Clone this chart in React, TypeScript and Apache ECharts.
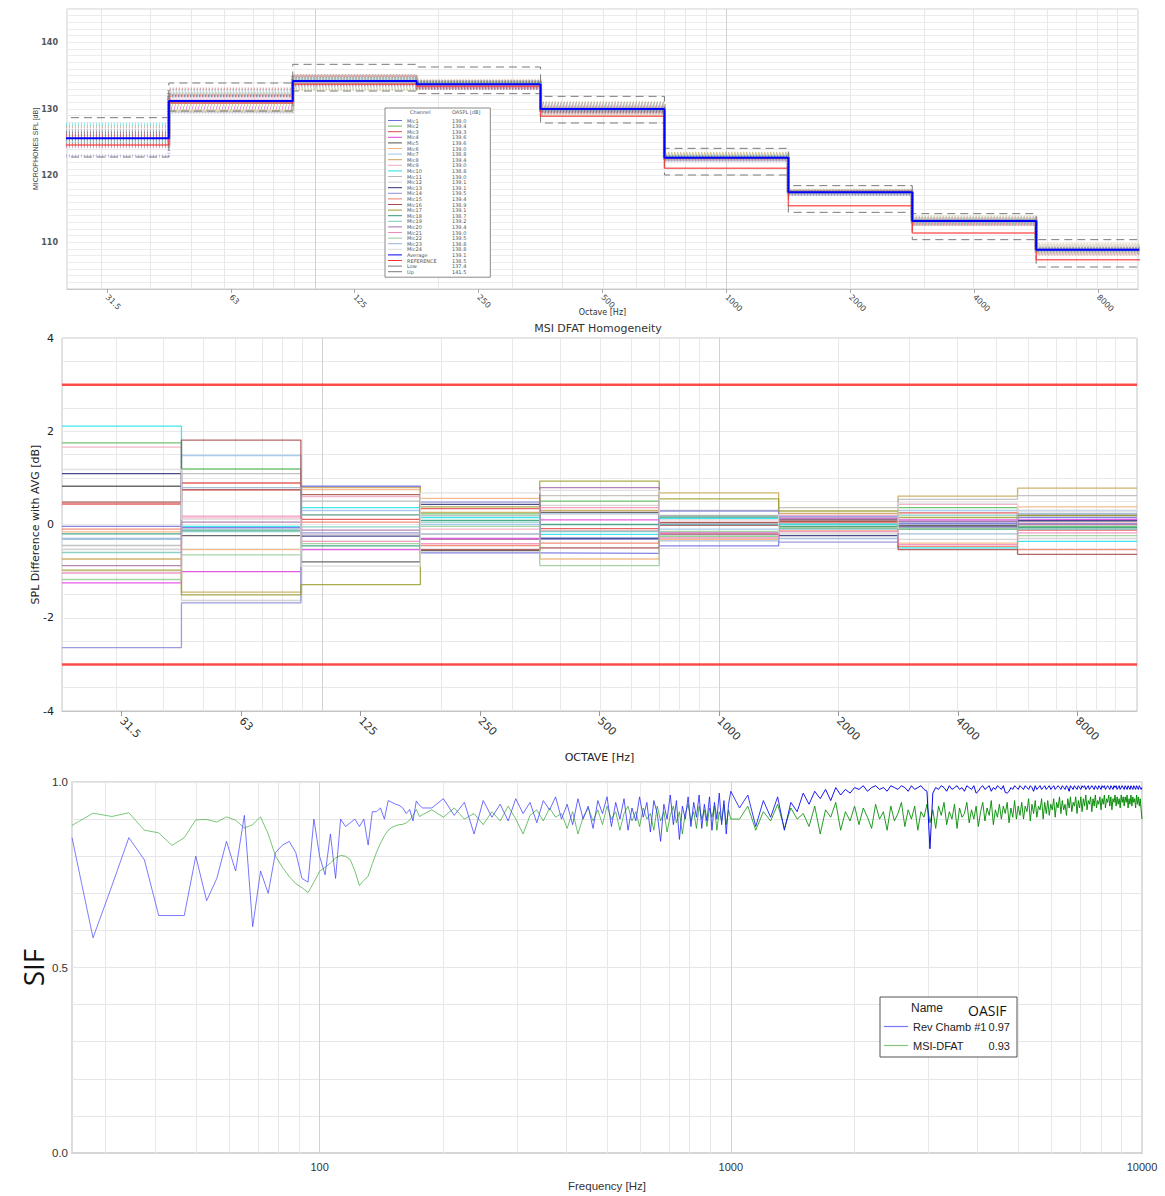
import React, { useEffect, useRef } from "react";
import * as echarts from "echarts";

// ---------- shared octave bands ----------
const BANDS = ["31.5", "63", "125", "250", "500", "1000", "2000", "4000", "8000"];
const BAND_CENTERS = [31.25, 62.5, 125, 250, 500, 1000, 2000, 4000, 8000];

// ---------- top panel (dB per octave band) ----------
const AVG = [125.6, 131.2, 134.2, 133.7, 130.0, 122.7, 117.5, 113.2, 108.9];
const REF = [124.6, 130.9, 133.7, 133.4, 128.9, 121.1, 115.5, 111.4, 107.4];
const LOW = [122.8, 129.7, 132.7, 132.3, 127.9, 120.1, 114.5, 110.4, 106.3];
const UP = [128.7, 133.9, 136.7, 136.3, 131.9, 124.1, 118.5, 114.3, 110.4];

// ---------- middle panel: SPL difference with AVG per mic per band ----------
const MIC1 = [-0.04, -0.07, 0.82, -0.61, -0.62, -0.46, 0.18, 0.02, 0.15];
const MIC2 = [1.75, 1.19, 0.21, 0.23, 0.5, -0.25, -0.09, 0.36, -0.04];
const MIC3 = [0.44, 0.89, 0.11, 0.34, -0.09, -0.02, 0.05, 0.25, -0.12];
const MIC4 = [-1.25, -1.01, -0.54, -0.3, 0.1, -0.18, 0.12, 0.1, 0.11];
const MIC5 = [0.82, -0.24, -0.8, -0.56, 0.26, 0.19, 0.1, -0.02, 0.2];
const MIC6 = [-0.16, -0.54, 0.75, 0.56, -0.74, -0.32, -0.13, -0.4, 0.38];
const MIC7 = [-0.32, 1.48, 0.3, 0.0, -0.29, -0.1, -0.1, 0.3, 0.3];
const MIC8 = [-0.74, -1.45, 0.79, 0.26, 0.3, 0.68, 0.24, 0.61, 0.78];
const MIC9 = [1.66, 0.14, 0.6, -0.1, -0.13, 0.05, 0.2, 0.43, 0.05];
const MIC10 = [2.11, -0.04, 0.36, 0.15, -0.21, 0.13, 0.0, -0.5, -0.36];
const MIC11 = [-0.45, 1.09, 0.5, 0.19, 0.62, 0.3, 0.36, 0.54, 0.62];
const MIC12 = [-0.54, -1.63, -0.21, -0.21, 0.41, 0.1, -0.2, -0.32, -0.3];
const MIC13 = [1.09, 0.75, -0.25, 0.43, -0.3, 0.0, -0.24, -0.05, 0.08];
const MIC14 = [-2.64, -1.68, -0.18, 0.48, -0.32, 0.29, -0.38, 0.05, 0.02];
const MIC15 = [-0.1, 0.74, 0.05, -0.45, -0.4, -0.2, -0.05, -0.47, -0.54];
const MIC16 = [0.48, 1.81, 0.64, -0.54, -0.5, 0.04, 0.07, -0.54, -0.64];
const MIC17 = [-0.98, -1.51, -1.29, 0.38, 0.93, 0.55, 0.29, 0.15, 0.19];
const MIC18 = [-0.2, -0.12, -0.46, 0.09, 0.0, 0.16, -0.04, -0.1, -0.07];
const MIC19 = [-0.6, -0.15, -0.05, 0.05, -0.15, 0.0, 0.02, 0.2, -0.1];
const MIC20 = [-0.88, 0.05, -0.12, -0.32, 0.79, -0.21, 0.14, 0.07, 0.0];
const MIC21 = [-1.04, 0.18, -0.36, -0.41, 0.36, -0.29, -0.15, -0.43, -0.18];
const MIC22 = [-1.18, -0.65, -0.41, -0.04, -0.88, -0.15, -0.06, -0.09, -0.24];
const MIC23 = [-0.3, 0.79, 0.2, -0.2, 0.23, -0.35, -0.3, -0.2, 0.24];
const MIC24 = [1.18, 0.11, -0.89, 0.68, 0.73, 0.2, -0.18, 0.46, 0.29];
const MIC_DIFFS = [MIC1, MIC2, MIC3, MIC4, MIC5, MIC6, MIC7, MIC8, MIC9, MIC10, MIC11, MIC12,
  MIC13, MIC14, MIC15, MIC16, MIC17, MIC18, MIC19, MIC20, MIC21, MIC22, MIC23, MIC24];
const MIC_COLORS = ["#6f6fe0", "#5cb85c", "#e04848", "#e040e0", "#505050", "#f4b27a", "#9cc4ea",
  "#c8a450", "#f2a8bc", "#20e0e8", "#b8b8b8", "#cfcfcf", "#2c2c78", "#8c8cd8", "#f07a62",
  "#a84848", "#9c9c30", "#2e9a78", "#78c8bc", "#a870a8", "#f08cb8", "#98cc98", "#98b4d0", "#dcdcdc"];
const LIMITS = [3, -3];

// legend values (OASPL [dB])
const OASPL = [139.0, 139.4, 139.3, 139.6, 139.6, 139.0, 138.8, 139.4, 139.0, 138.8, 139.0, 139.1,
  139.1, 139.5, 139.4, 138.9, 139.1, 138.7, 139.2, 139.4, 139.0, 139.5, 138.8, 138.8,
  139.1, 138.5, 137.4, 141.5];

// ---------- bottom panel: SIF vs frequency ----------
// sampling grids (start Hz, step Hz)
const GRID_A = { start: 25, step: 3.125 };
const GRID_B = { start: 187.5, step: 12.5 };
const GRID_C = { start: 1050, step: 50 };

const REV_A = [0.85, 0.58, 0.72, 0.85, 0.79, 0.64, 0.64, 0.64, 0.80, 0.68,
  0.74, 0.84, 0.76, 0.91, 0.61, 0.76, 0.70, 0.81, 0.83, 0.84,
  0.81, 0.74, 0.73, 0.90, 0.80, 0.75, 0.86, 0.74, 0.90, 0.88,
  0.89, 0.90, 0.88, 0.90, 0.83, 0.92, 0.92, 0.93, 0.90, 0.95,
  0.945, 0.94, 0.937, 0.93, 0.915, 0.926, 0.895, 0.949, 0.937, 0.93];
const MSI_A = [0.883, 0.916, 0.907, 0.917, 0.87, 0.863, 0.829, 0.85, 0.898, 0.899,
  0.892, 0.906, 0.897, 0.876, 0.885, 0.906, 0.86, 0.80, 0.77, 0.745,
  0.726, 0.715, 0.702, 0.73, 0.759, 0.77, 0.782, 0.795, 0.802, 0.80,
  0.791, 0.76, 0.721, 0.735, 0.746, 0.78, 0.81, 0.835, 0.855, 0.87,
  0.878, 0.882, 0.885, 0.886, 0.89, 0.897, 0.91, 0.926, 0.907, 0.912];
const REV_B = [0.93, 0.955, 0.91, 0.945, 0.86, 0.95, 0.905, 0.94, 0.895, 0.955,
  0.915, 0.945, 0.89, 0.95, 0.925, 0.96, 0.90, 0.94, 0.885, 0.955,
  0.90, 0.935, 0.875, 0.95, 0.915, 0.96, 0.88, 0.945, 0.90, 0.955,
  0.87, 0.93, 0.895, 0.96, 0.905, 0.945, 0.865, 0.95, 0.915, 0.84,
  0.94, 0.90, 0.965, 0.885, 0.95, 0.845, 0.935, 0.90, 0.96, 0.88,
  0.945, 0.905, 0.965, 0.875, 0.94, 0.895, 0.96, 0.87, 0.945, 0.90,
  0.97, 0.885, 0.95, 0.86, 0.94, 0.975];
const MSI_B = [0.925, 0.905, 0.93, 0.90, 0.915, 0.885, 0.92, 0.895, 0.935, 0.90,
  0.86, 0.91, 0.925, 0.895, 0.93, 0.905, 0.915, 0.875, 0.92, 0.86,
  0.905, 0.93, 0.895, 0.925, 0.885, 0.935, 0.90, 0.92, 0.87, 0.915,
  0.935, 0.895, 0.92, 0.88, 0.93, 0.90, 0.915, 0.87, 0.935, 0.895,
  0.92, 0.865, 0.91, 0.935, 0.89, 0.92, 0.86, 0.915, 0.94, 0.895,
  0.92, 0.875, 0.935, 0.90, 0.925, 0.88, 0.93, 0.905, 0.935, 0.87,
  0.92, 0.895, 0.94, 0.885, 0.925, 0.90];
const REV_C = [
  0.93, 0.965, 0.88, 0.95, 0.905, 0.96, 0.87, 0.945, 0.92, 0.97,
  0.94, 0.975, 0.955, 0.98, 0.95, 0.985, 0.965, 0.98, 0.97, 0.985,
  0.98, 0.99, 0.975, 0.985, 0.99, 0.98, 0.985, 0.975, 0.99, 0.985,
  0.98, 0.99, 0.985, 0.975, 0.99, 0.98, 0.985, 0.99, 0.98, 0.975,
  0.82, 0.97, 0.985, 0.98, 0.99, 0.985, 0.975, 0.99, 0.98, 0.985,
  0.99, 0.98, 0.985, 0.975, 0.99, 0.985, 0.98, 0.99, 0.97, 0.975,
  0.985, 0.99, 0.98, 0.985, 0.99, 0.975, 0.985, 0.98, 0.99, 0.985,
  0.98, 0.99, 0.972, 0.97, 0.975, 0.985, 0.98, 0.99, 0.985, 0.98,
  0.99, 0.985, 0.98, 0.99, 0.985, 0.98, 0.99, 0.985, 0.975, 0.99,
  0.98, 0.985, 0.99, 0.98, 0.985, 0.99, 0.98, 0.985, 0.99, 0.98,
  0.985, 0.99, 0.98, 0.985, 0.99, 0.985, 0.98, 0.99, 0.985, 0.98,
  0.99, 0.985, 0.975, 0.99, 0.985, 0.98, 0.99, 0.985, 0.98, 0.99,
  0.985, 0.98, 0.99, 0.985, 0.99, 0.98, 0.985, 0.99, 0.98, 0.985,
  0.99, 0.985, 0.98, 0.99, 0.985, 0.98, 0.99, 0.985, 0.98, 0.99,
  0.985, 0.99, 0.98, 0.985, 0.99, 0.985, 0.98, 0.99, 0.985, 0.98,
  0.99, 0.985, 0.99, 0.98, 0.985, 0.99, 0.98, 0.985, 0.99, 0.985,
  0.98, 0.99, 0.985, 0.98, 0.99, 0.985, 0.98, 0.99, 0.985, 0.98,
  0.99, 0.985, 0.98, 0.99, 0.985, 0.98, 0.99, 0.985, 0.98, 0.985];
const MSI_C = [
  0.90, 0.935, 0.87, 0.92, 0.895, 0.94, 0.875, 0.93, 0.90, 0.915,
  0.88, 0.935, 0.86, 0.925, 0.905, 0.945, 0.87, 0.92, 0.895, 0.935,
  0.885, 0.93, 0.905, 0.875, 0.94, 0.90, 0.92, 0.87, 0.935, 0.895,
  0.915, 0.945, 0.88, 0.925, 0.90, 0.935, 0.87, 0.92, 0.905, 0.94,
  0.89, 0.925, 0.875, 0.935, 0.91, 0.945, 0.885, 0.92, 0.90, 0.94,
  0.875, 0.93, 0.905, 0.915, 0.945, 0.89, 0.925, 0.90, 0.935, 0.88,
  0.92, 0.945, 0.895, 0.93, 0.91, 0.95, 0.885, 0.925, 0.905, 0.94,
  0.90, 0.935, 0.915, 0.945, 0.89, 0.93, 0.905, 0.95, 0.90, 0.935,
  0.91, 0.945, 0.90, 0.935, 0.92, 0.955, 0.895, 0.94, 0.915, 0.95,
  0.905, 0.935, 0.925, 0.955, 0.90, 0.945, 0.915, 0.95, 0.91, 0.94,
  0.925, 0.955, 0.905, 0.945, 0.93, 0.96, 0.915, 0.95, 0.925, 0.94,
  0.91, 0.955, 0.93, 0.96, 0.92, 0.945, 0.935, 0.96, 0.915, 0.95,
  0.93, 0.96, 0.92, 0.955, 0.935, 0.965, 0.925, 0.95, 0.94, 0.96,
  0.92, 0.955, 0.935, 0.965, 0.93, 0.95, 0.94, 0.96, 0.925, 0.955,
  0.94, 0.965, 0.93, 0.955, 0.945, 0.965, 0.935, 0.96, 0.925, 0.955,
  0.945, 0.965, 0.935, 0.96, 0.94, 0.955, 0.93, 0.965, 0.945, 0.96,
  0.935, 0.96, 0.945, 0.965, 0.93, 0.955, 0.94, 0.965, 0.935, 0.96,
  0.945, 0.955, 0.93, 0.965, 0.94, 0.96, 0.935, 0.955, 0.925, 0.90];
const OASIF = [0.97, 0.93];

// ---------- helpers ----------
const lg = Math.log10;
const TOP_X = [lg(25), 4];
const MID_X = [lg(1000 * Math.pow(2, -5.5)), lg(1000 * Math.pow(2, 3.5))];
const BOT_X = [lg(25), 4];
const GRID_FREQS: number[] = [];
[10, 100, 1000].forEach((d) => { for (let m = 1; m <= 9; m++) GRID_FREQS.push(m * d); });
GRID_FREQS.push(10000);

function stepData(vals: number[]) {
  const out: number[][] = [];
  vals.forEach((v, i) => {
    const c = BAND_CENTERS[i];
    out.push([lg(c / Math.SQRT2), v], [lg(c * Math.SQRT2), v]);
  });
  return out;
}
function sampled(grid: { start: number; step: number }, vals: number[]) {
  return vals.map((v, i) => [lg(grid.start + grid.step * i), v]);
}
function bandLabel(v: number) {
  const i = BAND_CENTERS.findIndex((c) => Math.abs(lg(c) - v) < 1e-6);
  return i >= 0 ? BANDS[i] : "";
}
function gridSeries(axis: number, xr: number[], y0: number) {
  return {
    type: "line", xAxisIndex: axis, yAxisIndex: axis, data: [[xr[0], y0]], symbol: "none",
    lineStyle: { opacity: 0 }, silent: true, z: 1, legendHoverLink: false,
    markLine: {
      silent: true, symbol: "none", z: 1, animation: false, label: { show: false },
      emphasis: { disabled: true },
      data: GRID_FREQS.filter((f) => lg(f) > xr[0] + 1e-6 && lg(f) < xr[1] - 1e-6).map((f) => ({
        xAxis: lg(f),
        lineStyle: { color: f === 100 || f === 1000 ? "#d2d2d2" : "#e8e8e8", width: 1, type: "solid" },
      })),
    },
  };
}

const SANS = "DejaVu Sans, Verdana, sans-serif";
const NARROW = "Liberation Sans Narrow, Liberation Sans, Arial, sans-serif";

export default function App() {
  const ref = useRef<HTMLDivElement>(null);
  useEffect(() => {
    if (!ref.current) return;
    const chart = echarts.init(ref.current, undefined, { renderer: "svg" });
    const micNames = MIC_DIFFS.map((_, i) => `Mic${i + 1}`);
    const topNames = [...micNames, "Average", "REFERENCE", "Low", "Up"];

    const series: any[] = [];
    series.push(gridSeries(0, TOP_X, 103), gridSeries(1, MID_X, -4), gridSeries(2, BOT_X, 0));

    // top panel
    MIC_DIFFS.forEach((d, i) => {
      series.push({
        name: micNames[i], type: "line", xAxisIndex: 0, yAxisIndex: 0,
        data: stepData(AVG.map((a, b) => a + d[b])), symbol: "none", silent: true, z: 2,
        lineStyle: { color: MIC_COLORS[i], width: 3, type: [1, 2], opacity: 0.55 },
        itemStyle: { color: MIC_COLORS[i] },
      });
    });
    series.push(
      { name: "Low", type: "line", xAxisIndex: 0, yAxisIndex: 0, data: stepData(LOW), symbol: "none", z: 3,
        lineStyle: { color: "#7a7a7a", width: 1, type: [8, 5] }, itemStyle: { color: "#7a7a7a" } },
      { name: "Up", type: "line", xAxisIndex: 0, yAxisIndex: 0, data: stepData(UP), symbol: "none", z: 3,
        lineStyle: { color: "#7a7a7a", width: 1, type: [8, 5] }, itemStyle: { color: "#7a7a7a" } },
      { name: "REFERENCE", type: "line", xAxisIndex: 0, yAxisIndex: 0, data: stepData(REF), symbol: "none", z: 4,
        lineStyle: { color: "#ff3030", width: 1.5, opacity: 0.75 }, itemStyle: { color: "#ff3030" } },
      { name: "Average", type: "line", xAxisIndex: 0, yAxisIndex: 0, data: stepData(AVG), symbol: "none", z: 5,
        lineStyle: { color: "#0000ff", width: 2 }, itemStyle: { color: "#0000ff" } },
    );

    // middle panel
    MIC_DIFFS.forEach((d, i) => {
      series.push({
        name: `d${micNames[i]}`, type: "line", xAxisIndex: 1, yAxisIndex: 1,
        data: stepData(d), symbol: "none", silent: true, z: 2,
        lineStyle: { color: MIC_COLORS[i], width: 1.3, opacity: 0.85 },
      });
    });
    LIMITS.forEach((l, i) => {
      series.push({
        name: `limit${i}`, type: "line", xAxisIndex: 1, yAxisIndex: 1, data: [[MID_X[0], l], [MID_X[1], l]],
        symbol: "none", silent: true, z: 6, lineStyle: { color: "#ff2020", width: 2.5, opacity: 0.8 },
      });
    });

    // bottom panel
    const blueGrad = new echarts.graphic.LinearGradient(0, 0, 1, 0, [
      { offset: 0, color: "rgba(70,70,255,0.7)" },
      { offset: 0.45, color: "rgba(60,60,255,0.75)" },
      { offset: 0.62, color: "rgba(30,30,245,0.85)" },
      { offset: 0.72, color: "rgba(0,0,235,0.95)" },
      { offset: 1, color: "rgba(0,0,225,1)" },
    ]);
    const greenGrad = new echarts.graphic.LinearGradient(0, 0, 1, 0, [
      { offset: 0, color: "rgba(40,165,40,0.6)" },
      { offset: 0.5, color: "rgba(40,160,40,0.68)" },
      { offset: 0.7, color: "rgba(0,140,0,0.85)" },
      { offset: 1, color: "rgba(0,135,0,0.95)" },
    ]);
    series.push(
      { name: "MSI-DFAT", type: "line", xAxisIndex: 2, yAxisIndex: 2, symbol: "none", z: 3,
        data: [...sampled(GRID_A, MSI_A), ...sampled(GRID_B, MSI_B), ...sampled(GRID_C, MSI_C)],
        lineStyle: { color: greenGrad, width: 1 }, itemStyle: { color: "#7cc87c" } },
      { name: "Rev Chamb #1", type: "line", xAxisIndex: 2, yAxisIndex: 2, symbol: "none", z: 4,
        data: [...sampled(GRID_A, REV_A), ...sampled(GRID_B, REV_B), ...sampled(GRID_C, REV_C)],
        lineStyle: { color: blueGrad, width: 1 }, itemStyle: { color: "#7878ff" } },
    );

    const bandTickVals = BAND_CENTERS.map(lg);

    chart.setOption({
      animation: false,
      backgroundColor: "#fff",
      grid: [
        { left: 67, top: 9, width: 1071, height: 280, show: true, borderColor: "#cfcfcf", borderWidth: 1, backgroundColor: "transparent" },
        { left: 62, top: 338, width: 1075, height: 373, show: true, borderColor: "#c4c4c4", borderWidth: 1, backgroundColor: "transparent" },
        { left: 72, top: 782, width: 1070, height: 371, show: true, borderColor: "#d2d2d2", borderWidth: 1.5, backgroundColor: "transparent" },
      ],
      xAxis: [
        {
          type: "value", gridIndex: 0, min: TOP_X[0], max: TOP_X[1],
          axisLine: { show: true, onZero: false, lineStyle: { color: "#c8c8c8" } }, splitLine: { show: false },
          axisTick: { show: true, customValues: bandTickVals, length: 4, lineStyle: { color: "#aaa" } },
          axisLabel: { customValues: bandTickVals, formatter: bandLabel, rotate: -45, fontSize: 8, color: "#444", fontFamily: SANS, margin: 7 },
          name: "Octave [Hz]", nameLocation: "middle", nameGap: 19, nameMoveOverlap: false,
          nameTextStyle: { fontSize: 8, color: "#333", fontFamily: SANS },
        },
        {
          type: "value", gridIndex: 1, min: MID_X[0], max: MID_X[1],
          axisLine: { show: true, onZero: false, lineStyle: { color: "#c4c4c4" } }, splitLine: { show: false },
          axisTick: { show: true, customValues: bandTickVals, length: 5, lineStyle: { color: "#999" } },
          axisLabel: { customValues: bandTickVals, formatter: bandLabel, rotate: -45, fontSize: 11, color: "#333", fontFamily: SANS, margin: 8 },
          name: "OCTAVE [Hz]", nameLocation: "middle", nameGap: 41, nameMoveOverlap: false,
          nameTextStyle: { fontSize: 11, color: "#222", fontFamily: SANS },
        },
        {
          type: "value", gridIndex: 2, min: BOT_X[0], max: BOT_X[1],
          axisLine: { show: true, onZero: false, lineStyle: { color: "#d2d2d2", width: 1.5 } }, splitLine: { show: false },
          axisTick: { show: false, customValues: [2, 3, 4] },
          axisLabel: { customValues: [2, 3, 4], formatter: (v: number) => String(Math.round(Math.pow(10, v))), fontSize: 11, color: "#333", fontFamily: NARROW, margin: 8 },
          name: "Frequency [Hz]", nameLocation: "middle", nameGap: 27, nameMoveOverlap: false,
          nameTextStyle: { fontSize: 11.5, color: "#333", fontFamily: NARROW },
        },
      ],
      yAxis: [
        {
          type: "value", gridIndex: 0, min: 103, max: 145, interval: 1,
          axisLine: { show: false }, axisTick: { show: false },
          splitLine: { show: true, lineStyle: { color: "#ececec", width: 1 } },
          axisLabel: { interval: 0, formatter: (v: number) => (v % 10 === 0 ? String(v) : ""), fontSize: 8, fontWeight: "bold", color: "#555", fontFamily: SANS, margin: 9 },
          name: "MICROPHONES SPL [dB]", nameLocation: "middle", nameGap: 28, nameMoveOverlap: false,
          nameTextStyle: { fontSize: 7, color: "#444", fontFamily: NARROW },
        },
        {
          type: "value", gridIndex: 1, min: -4, max: 4, interval: 0.5,
          axisLine: { show: false }, axisTick: { show: false },
          splitLine: { show: true, lineStyle: { color: "#e8e8e8", width: 1 } },
          axisLabel: { interval: 0, formatter: (v: number) => (Math.abs(v / 2 - Math.round(v / 2)) < 1e-6 ? String(v) : ""), fontSize: 11, color: "#222", fontFamily: SANS, margin: 8 },
          name: "SPL Difference with AVG [dB]", nameLocation: "middle", nameGap: 21, nameMoveOverlap: false,
          nameTextStyle: { fontSize: 11, color: "#222", fontFamily: SANS },
        },
        {
          type: "value", gridIndex: 2, min: 0, max: 1, interval: 0.1,
          axisLine: { show: false }, axisTick: { show: false },
          splitLine: { show: true, lineStyle: { color: "#e6e6e6", width: 1 } },
          axisLabel: { interval: 0, formatter: (v: number) => (Math.abs(v * 2 - Math.round(v * 2)) < 1e-6 ? v.toFixed(1) : ""), fontSize: 11.5, color: "#333", fontFamily: NARROW, margin: 4 },
          name: "SIF", nameLocation: "middle", nameGap: 25, nameMoveOverlap: false,
          nameTextStyle: { fontSize: 28, color: "#111", fontFamily: "Open Sans, DejaVu Sans, sans-serif" },
        },
      ],
      legend: [
        {
          data: topNames, left: 385, top: 108, orient: "vertical", padding: [10, 24, 3, 3],
          borderColor: "#8a8a8a", borderWidth: 1, backgroundColor: "#fff", icon: "rect",
          itemWidth: 14, itemHeight: 1, itemGap: 0.6, selectedMode: false,
          formatter: (name: string) => `{a|${name}}{b|${OASPL[topNames.indexOf(name)].toFixed(1)}}`,
          textStyle: {
            fontSize: 5, color: "#555", fontFamily: SANS, lineHeight: 4.4,
            rich: { a: { width: 45, fontSize: 5, lineHeight: 4.4, fontFamily: SANS, color: "#555" }, b: { fontSize: 5, lineHeight: 4.4, fontFamily: SANS, color: "#555" } },
          },
        },
        {
          data: ["Rev Chamb #1", "MSI-DFAT"], left: 880, top: 997, orient: "vertical", padding: [24, 7, 6, 4],
          borderColor: "#555", borderWidth: 1, backgroundColor: "#fff", icon: "rect",
          itemWidth: 24, itemHeight: 1.2, itemGap: 8, selectedMode: false,
          formatter: (name: string) => `{a|${name}}{b|${OASIF[name === "MSI-DFAT" ? 1 : 0].toFixed(2)}}`,
          textStyle: {
            fontSize: 11, color: "#222", fontFamily: NARROW,
            rich: { a: { width: 75, fontSize: 11, fontFamily: NARROW, color: "#222" }, b: { fontSize: 11, fontFamily: NARROW, color: "#222", width: 22, align: "right" } },
          },
        },
      ],
      graphic: [
        { type: "text", x: 410, y: 109, z: 100, style: { text: "Channel", fontSize: 5, fill: "#555", fontFamily: SANS } },
        { type: "text", x: 452, y: 109, z: 100, style: { text: "OASPL [dB]", fontSize: 5, fill: "#555", fontFamily: SANS } },
        { type: "text", x: 598, y: 323, z: 100, style: { text: "MSI DFAT Homogeneity", fontSize: 11, fill: "#333", fontFamily: SANS, textAlign: "center" } },
        { type: "text", x: 911, y: 1002, z: 100, style: { text: "Name", fontSize: 12, fill: "#222", fontFamily: NARROW } },
        { type: "text", x: 968, y: 1003, z: 100, style: { text: "OASIF", fontSize: 14, fill: "#111", fontFamily: "Open Sans, DejaVu Sans, sans-serif" } },
      ],
      series,
    });
    return () => chart.dispose();
  }, []);
  return <div ref={ref} style={{ position: "absolute", left: 0, top: 0, width: 1165, height: 1196, background: "#fff" }} />;
}
